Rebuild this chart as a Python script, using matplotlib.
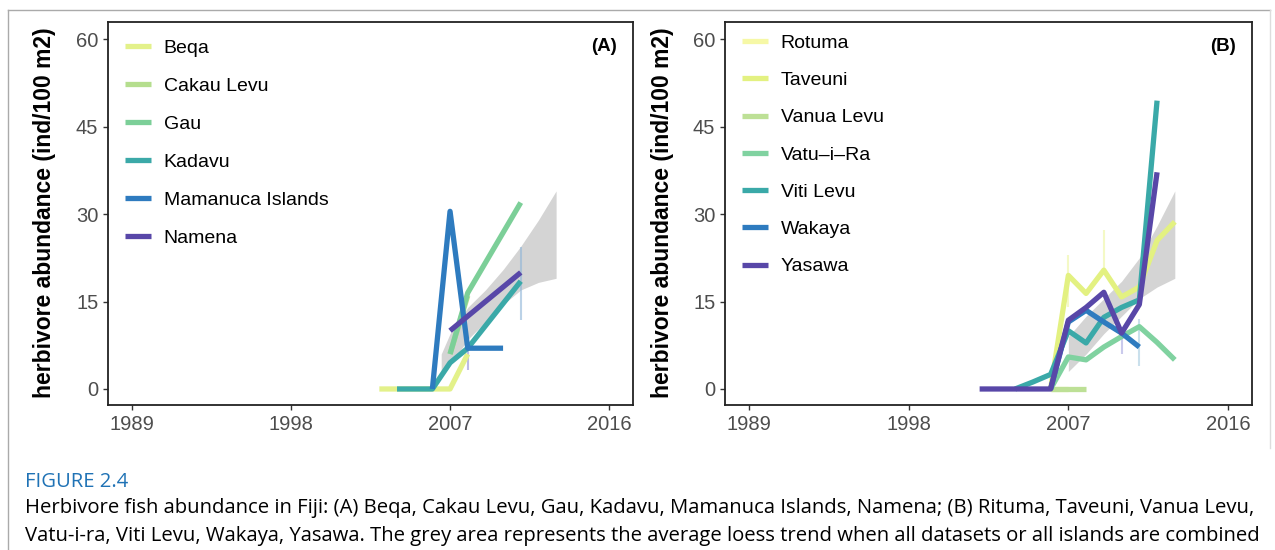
import numpy as np
import matplotlib.pyplot as plt
from matplotlib.lines import Line2D

W, H = 1275, 550

# Panel A data (year, herbivore abundance ind/100 m2)
beqa_years = [2003, 2004, 2005, 2006, 2007, 2008]
beqa_vals = [0, 0, 0, 0, 0, 6]
cakau_years = [2007, 2008]
cakau_vals = [6, 16]
gau_years = [2007, 2008, 2011]
gau_vals = [6, 16.5, 32]
kadavu_years = [2004, 2005, 2006, 2007, 2008, 2011]
kadavu_vals = [0, 0, 0, 4.5, 7, 18.5]
mamanuca_years = [2006, 2007, 2008, 2009, 2010]
mamanuca_vals = [0, 30.5, 7, 7, 7]
namena_years = [2007, 2011]
namena_vals = [10, 20]

# loess band, panel A
ribA_years = [2006.5, 2007, 2008, 2009, 2010, 2011, 2012, 2013]
ribA_low = [2, 4, 8.5, 11.5, 14.5, 17, 18.3, 19]
ribA_high = [6, 9.5, 14, 17, 20.5, 24.5, 29, 34]

# Panel B data
rotuma_years = [2006, 2007]
rotuma_vals = [0, 0]
taveuni_years = [2006, 2007, 2008, 2009, 2010, 2011, 2012, 2013]
taveuni_vals = [0, 19.5, 16.4, 20.4, 15.8, 17.5, 25.5, 28.7]
vanua_years = [2006, 2007, 2008]
vanua_vals = [0, 0, 0]
vatu_years = [2006, 2007, 2008, 2009, 2010, 2011, 2012, 2013]
vatu_vals = [0, 5.5, 5, 7.2, 9, 10.7, 8, 5]
viti_years = [2004, 2005, 2006, 2007, 2008, 2009, 2010, 2011, 2012]
viti_vals = [0, 1.2, 2.5, 10, 7.9, 12.3, 14, 15.3, 49.5]
wakaya_years = [2006, 2007, 2008, 2009, 2010, 2011]
wakaya_vals = [0, 11.5, 13.5, 11.5, 9.6, 7.2]
yasawa_years = [2002, 2003, 2004, 2005, 2006, 2007, 2008, 2009, 2010, 2011, 2012]
yasawa_vals = [0, 0, 0, 0, 0, 11.8, 14, 16.6, 9.6, 14.5, 37.2]

ribB_years = [2007, 2008, 2009, 2010, 2011, 2012, 2013]
ribB_low = [3, 6, 9.5, 12.5, 15.5, 17.5, 19]
ribB_high = [9, 12.5, 15.5, 18.5, 22.5, 28, 34]

# faint error bars: (year, low, high, colour)
errA = [(2008, 3.3, 8.4, "#8f8fd8"), (2011, 11.8, 24.4, "#8fb5d8")]
errB = [(2007, 14, 23, "#eef5a0"), (2009, 20.4, 27.3, "#eef5a0"),
        (2010, 6, 9.6, "#a8a8e0"), (2011, 4, 12, "#a8cce0")]

seriesA = [("Beqa", beqa_years, beqa_vals, "#e3f18a"),
           ("Cakau Levu", cakau_years, cakau_vals, "#b5de8e"),
           ("Gau", gau_years, gau_vals, "#7ccf98"),
           ("Kadavu", kadavu_years, kadavu_vals, "#3ba9a8"),
           ("Mamanuca Islands", mamanuca_years, mamanuca_vals, "#2e7bbf"),
           ("Namena", namena_years, namena_vals, "#5847a8")]
seriesB = [("Rotuma", rotuma_years, rotuma_vals, "#f6f8a6"),
           ("Taveuni", taveuni_years, taveuni_vals, "#e3f181"),
           ("Vanua Levu", vanua_years, vanua_vals, "#bde096"),
           ("Vatu\u2013i\u2013Ra", vatu_years, vatu_vals, "#80d2a0"),
           ("Viti Levu", viti_years, viti_vals, "#3aa9a8"),
           ("Wakaya", wakaya_years, wakaya_vals, "#2e7bbf"),
           ("Yasawa", yasawa_years, yasawa_vals, "#5847a8")]

plt.rcParams['font.family'] = ['Liberation Sans', 'DejaVu Sans']

fig = plt.figure(figsize=(W / 100, H / 100), dpi=100)

# page frame
fig.add_artist(Line2D([8 / W, 1270 / W], [1 - 10 / H, 1 - 10 / H],
                      transform=fig.transFigure, color="#aaaaaa", lw=1))
fig.add_artist(Line2D([8 / W, 8 / W], [0, 1 - 10 / H],
                      transform=fig.transFigure, color="#aaaaaa", lw=1))
fig.add_artist(Line2D([1270 / W, 1270 / W], [1 - 448 / H, 1 - 10 / H],
                      transform=fig.transFigure, color="#dddddd", lw=1))


def panel(left, width, series, rib, errs, tag, leg_top, spacing):
    ax = fig.add_axes([left / W, (H - 405) / H, width / W, 383 / H])
    ax.fill_between(rib[0], rib[1], rib[2], color="#d4d4d4", lw=0, zorder=1)
    for yr, lo, hi, c in errs:
        ax.vlines(yr, lo, hi, color=c, lw=1.5, alpha=0.6, zorder=1.5)
    for name, xs, ys, c in series:
        ax.plot(xs, ys, color=c, lw=3.8, solid_capstyle="butt",
                solid_joinstyle="round", label=name, zorder=2)
    ax.set_xlim(1987.65, 2017.35)
    ax.set_ylim(-2.75, 63)
    ax.set_xticks([1989, 1998, 2007, 2016])
    ax.set_yticks([0, 15, 30, 45, 60])
    ax.tick_params(labelsize=14.5, labelcolor="#4d4d4d", color="#333333",
                   length=3.5, width=1)
    for s in ax.spines.values():
        s.set_linewidth(1.3)
        s.set_color("#222222")
    ax.text(0.97, 0.935, tag, transform=ax.transAxes, ha="right", va="center",
            fontsize=13.5, fontweight="bold")
    ax.legend(loc="upper left", bbox_to_anchor=(0.033, leg_top), frameon=False,
              fontsize=14, handlelength=1.3, handletextpad=0.67,
              labelspacing=spacing, borderpad=0, borderaxespad=0)
    return ax


panel(108, 525, seriesA, (ribA_years, ribA_low, ribA_high), errA, "(A)", 0.955, 1.05)
panel(725, 527, seriesB, (ribB_years, ribB_low, ribB_high), errB, "(B)", 0.968, 1.01)

for x in (45, 663):
    fig.text(x / W, 1 - 213 / H, "herbivore abundance (ind/100 m2)", rotation=90,
             ha="center", va="center", fontsize=16.5, fontweight="bold")

cap_font = ['Open Sans', 'DejaVu Sans']
fig.text(25 / W, 1 - 482 / H, "FIGURE 2.4", color="#1f72b5", fontsize=14.6,
         family=cap_font, va="center")
fig.text(25 / W, 1 - 508 / H,
         "Herbivore fish abundance in Fiji: (A) Beqa, Cakau Levu, Gau, Kadavu, Mamanuca Islands, Namena; "
         "(B) Rituma, Taveuni, Vanua Levu,",
         fontsize=14.6, family=cap_font, va="center")
fig.text(25 / W, 1 - 536 / H,
         "Vatu-i-ra, Viti Levu, Wakaya, Yasawa. The grey area represents the average loess trend "
         "when all datasets or all islands are combined",
         fontsize=14.6, family=cap_font, va="center")

fig.savefig("out.png", dpi=100)
